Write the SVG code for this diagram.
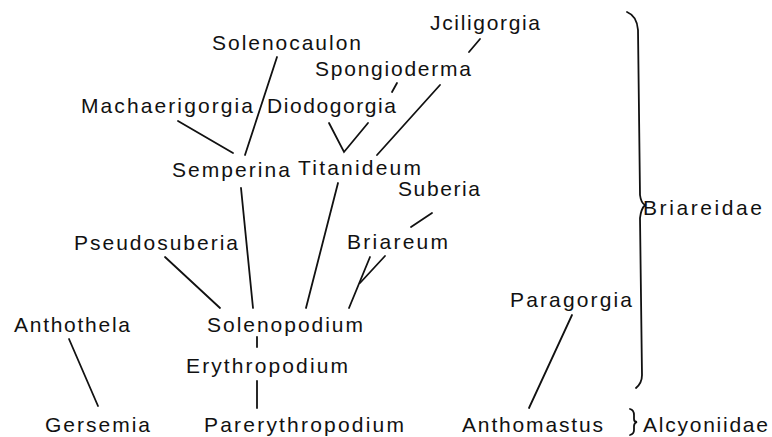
<svg xmlns="http://www.w3.org/2000/svg" width="772" height="437" viewBox="0 0 772 437">
<style>
text{font-family:"Liberation Sans",Arial,sans-serif;font-size:21px;fill:#111}
.c line,.c polyline,.c path{stroke:#111;stroke-width:1.8;fill:none;stroke-linecap:round}
</style>
<rect width="772" height="437" fill="#fff"/>
<g class="c" id="connectors">
<line x1="277" y1="57" x2="245" y2="155"/>
<line x1="178" y1="121" x2="233" y2="153"/>
<line x1="480" y1="39" x2="469" y2="52"/>
<line x1="397" y1="83" x2="392" y2="92"/>
<line x1="440" y1="85" x2="377" y2="155"/>
<polyline points="329,123 344,152 368,123"/>
<line x1="241" y1="188" x2="253" y2="308"/>
<line x1="338" y1="183" x2="306" y2="308"/>
<line x1="165" y1="257" x2="220" y2="308"/>
<line x1="432" y1="213" x2="411" y2="227"/>
<line x1="370" y1="257" x2="349" y2="308"/>
<line x1="385" y1="256" x2="360" y2="283"/>
<line x1="257" y1="337" x2="257" y2="347"/>
<line x1="257" y1="381" x2="257" y2="408"/>
<line x1="69" y1="339" x2="98" y2="406"/>
<line x1="572" y1="315" x2="529" y2="408"/>
<path d="M627,12 Q637,16 638,30 L640,195 Q641,203 645,205 Q641,209 640,218 L642,375 Q642,383 636,388"/>
<path d="M630,409 Q634,410 634,415 L634,419 Q634,422 637,422 Q634,423 634,426 L634,430 Q634,434 630,435"/>
</g>
<g id="n-solenocaulon"><text x="212" y="50" textLength="149" lengthAdjust="spacing">Solenocaulon</text></g>
<g id="n-jciligorgia"><text x="430" y="30" textLength="110" lengthAdjust="spacing">Jciligorgia</text></g>
<g id="n-spongioderma"><text x="315" y="76" textLength="156" lengthAdjust="spacing">Spongioderma</text></g>
<g id="n-machaerigorgia"><text x="81" y="113" textLength="172" lengthAdjust="spacing">Machaerigorgia</text></g>
<g id="n-diodogorgia"><text x="267" y="113" textLength="129" lengthAdjust="spacing">Diodogorgia</text></g>
<g id="n-semperina"><text x="172" y="177" textLength="118" lengthAdjust="spacing">Semperina</text></g>
<g id="n-titanideum"><text x="298" y="175" textLength="123" lengthAdjust="spacing">Titanideum</text></g>
<g id="n-suberia"><text x="398" y="196" textLength="82" lengthAdjust="spacing">Suberia</text></g>
<g id="n-briareidae"><text x="643" y="215" textLength="119" lengthAdjust="spacing">Briareidae</text></g>
<g id="n-pseudosuberia"><text x="74" y="250" textLength="164" lengthAdjust="spacing">Pseudosuberia</text></g>
<g id="n-briareum"><text x="347" y="249" textLength="101" lengthAdjust="spacing">Briareum</text></g>
<g id="n-paragorgia"><text x="510" y="307" textLength="122" lengthAdjust="spacing">Paragorgia</text></g>
<g id="n-anthothela"><text x="14" y="332" textLength="116" lengthAdjust="spacing">Anthothela</text></g>
<g id="n-solenopodium"><text x="207" y="332" textLength="156" lengthAdjust="spacing">Solenopodium</text></g>
<g id="n-erythropodium"><text x="186" y="373" textLength="162" lengthAdjust="spacing">Erythropodium</text></g>
<g id="n-gersemia"><text x="45" y="432" textLength="105" lengthAdjust="spacing">Gersemia</text></g>
<g id="n-parerythropodium"><text x="204" y="432" textLength="200" lengthAdjust="spacing">Parerythropodium</text></g>
<g id="n-anthomastus"><text x="462" y="432" textLength="141" lengthAdjust="spacing">Anthomastus</text></g>
<g id="n-alcyoniidae"><text x="643" y="432" textLength="125" lengthAdjust="spacing">Alcyoniidae</text></g>
</svg>
